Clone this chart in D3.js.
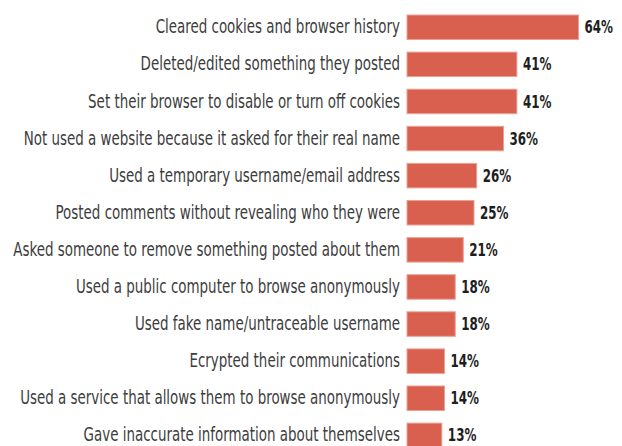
<!DOCTYPE html>
<html>
<head>
<meta charset="utf-8">
<script src="https://cdn.jsdelivr.net/npm/d3@7"></script>
<style>
  body { margin: 0; background: #fff; }
  text { font-family: "DejaVu Sans Condensed", "DejaVu Sans", sans-serif; }
</style>
</head>
<body>
<div id="chart"></div>
<script>
// categories and values
const actions = [
    "Cleared cookies and browser history",
    "Deleted/edited something they posted",
    "Set their browser to disable or turn off cookies",
    "Not used a website because it asked for their real name",
    "Used a temporary username/email address",
    "Posted comments without revealing who they were",
    "Asked someone to remove something posted about them",
    "Used a public computer to browse anonymously",
    "Used fake name/untraceable username",
    "Ecrypted their communications",
    "Used a service that allows them to browse anonymously",
    "Gave inaccurate information about themselves"
];
const shares = [64, 41, 41, 36, 26, 25, 21, 18, 18, 14, 14, 13];

const width = 622, height = 446;
const labelLeft = 13;   // where the longest label starts in the reference

const svg = d3.select("#chart")
    .append("svg")
        .attr("width", width)
        .attr("height", height);

// x: percent -> pixels, bars start just right of the labels
const x = d3.scaleLinear()
    .domain([0, 100])
    .range([407, 675]);

// y: one band per action
const y = d3.scaleBand()
    .domain(actions)
    .range([8.7, 453.9])
    .paddingInner(0.34)
    .paddingOuter(0.17);

const rows = actions.map((a, i) => ({ action: a, value: shares[i] }));

// bars
svg.selectAll("rect.bar")
    .data(rows)
    .join("rect")
    .attr("class", "bar")
    .attr("x", x(0))
    .attr("y", d => y(d.action))
    .attr("width", d => x(d.value) - x(0))
    .attr("height", y.bandwidth())
    .attr("fill", "#d9604f")
    .attr("stroke", "#eaa194")
    .attr("stroke-width", 1);

// category labels (left axis without line/ticks), squeezed to look condensed
const labelX = x(0) - 7;
const axisG = svg.append("g")
    .call(d3.axisLeft(y).tickSize(0).tickPadding(0))
    .call(g => g.select(".domain").remove());
axisG.selectAll("text")
    .attr("font-family", "DejaVu Sans Condensed, DejaVu Sans, sans-serif")
    .attr("font-size", 19)
    .attr("fill", "#3d3d3d");
let longest = 0;
axisG.selectAll("text").each(function() {
    longest = Math.max(longest, this.getComputedTextLength());
});
const squeeze = (labelX - labelLeft) / longest;
axisG.attr("transform", `translate(${labelX},0) scale(${squeeze},1)`);

// value labels
svg.selectAll("text.value")
    .data(rows)
    .join("text")
    .attr("class", "value")
    .attr("transform", d => `translate(${x(d.value) + 6},${y(d.action) + y.bandwidth() / 2}) scale(0.78,1)`)
    .attr("dy", "0.36em")
    .attr("font-size", 17)
    .attr("font-weight", "bold")
    .attr("fill", "#1e1e1e")
    .text(d => d.value + "%");
</script>
</body>
</html>
